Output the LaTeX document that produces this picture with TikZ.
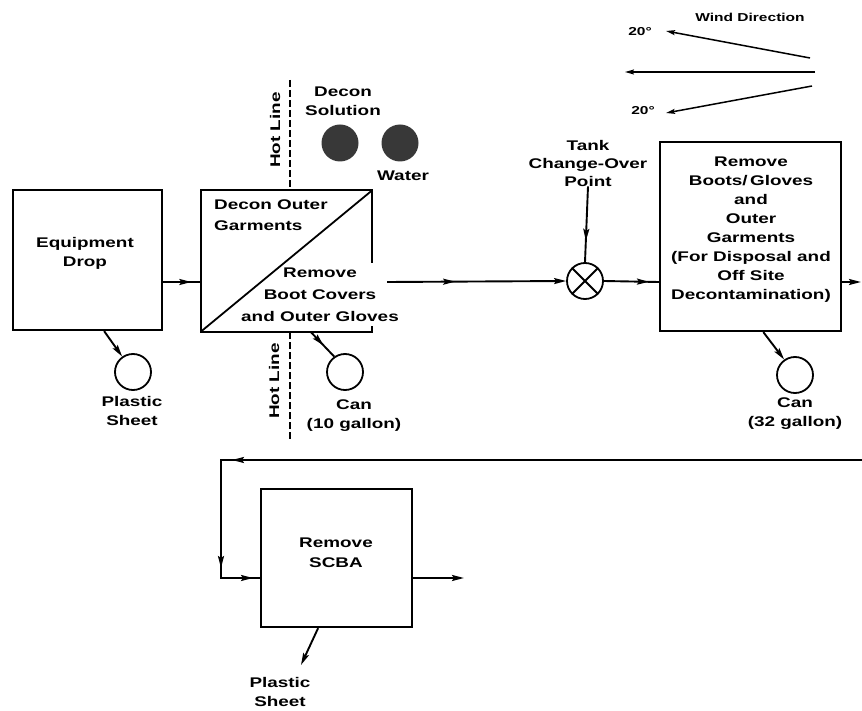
\documentclass[tikz,border=0pt]{standalone}
\usepackage{fontspec}
\setmainfont[FakeStretch=1.35]{Liberation Sans}
\usetikzlibrary{arrows.meta,decorations.markings,calc}
\tikzset{
  >={Stealth[length=12pt,width=6pt,inset=2pt]},
  boxline/.style={line width=2.2pt,line cap=rect,line join=miter},
  box/.style={draw,boxline,inner sep=0pt},
  lbl/.style={font=\fontsize{14}{19}\selectfont\bfseries,align=center,inner sep=0pt},
  smalllbl/.style={font=\fontsize{11.5}{14}\selectfont\bfseries,inner sep=0pt},
  ring/.style={circle,draw,line width=1.8pt,minimum size=36pt,inner sep=0pt},
  blob/.style={circle,fill=black!78,minimum size=37pt,inner sep=0pt},
  flow/.style={line width=1.9pt},
  marr/.style={postaction={decorate,decoration={markings,mark=at position #1 with {\arrow{>}}}}},
  hotline/.style={line width=1.8pt,dash pattern=on 7pt off 3pt},
  windline/.style={line width=1.5pt,>={Stealth[length=9pt,width=5pt,inset=1.5pt]}}
}
\begin{document}
\begin{tikzpicture}[x=1pt,y=-1pt]
\fill[white] (0,0) rectangle (862,711);
\useasboundingbox (0,0) rectangle (862,711);

% reference heights
\coordinate (my) at (0,282);
\coordinate (ry) at (0,578);

% boxes
\node[box,minimum width=149pt,minimum height=140pt] (eq) at (87.5,260) {};
\node[inner sep=0pt,minimum width=171pt,minimum height=141pt] (decon) at (286.5,261) {};
\node[box,minimum width=181pt,minimum height=189pt] (rb) at (750.5,236.5) {};
\node[box,minimum width=151pt,minimum height=138pt] (scba) at (336.5,558) {};

% decon box outline with gap on right edge
\draw[boxline] ([yshift=-72pt]decon.north east) -- (decon.north east) -- (decon.north west)
  -- (decon.south west) -- (decon.south east) -- ([yshift=5pt]decon.south east);
\draw[line width=1.8pt] (decon.south west) -- (decon.north east);

% texts in boxes
\node[lbl] (eqt) at (85,253) {Equipment\\Drop};
\node[lbl,anchor=west,align=left,font=\fontsize{14}{21}\selectfont\bfseries] (dot) at (214,215) {Decon Outer\\Garments};
\node[lbl,font=\fontsize{14}{22}\selectfont\bfseries] (rbt) at (320,295) {Remove\\Boot Covers\\and Outer Gloves};
\node[lbl] (rbx) at (751,229.5) {Remove\\Boots/\,Gloves\\and\\Outer\\Garments\\(For Disposal and\\Off Site\\Decontamination)};
\node[lbl,font=\fontsize{14}{20}\selectfont\bfseries] (scbat) at (336,553) {Remove\\SCBA};

% circles
\node[ring] (ps1) at (133,372) {};
\node[ring] (can1) at (345,372) {};
\node[ring] (can2) at (795,375) {};
\node[ring] (xc) at (585,281) {};
\draw[line width=1.8pt] (xc.north east) -- (xc.south west) (xc.north west) -- (xc.south east);
\node[blob] (sol) at (340,143) {};
\node[blob] (wat) at (400,143) {};

% labels
\node[lbl] (ps1l) at (132,411) {Plastic\\Sheet};
\node[lbl] (can1l) at (354,416) {Can\\(10 gallon)};
\node[lbl] (can2l) at (795,414) {Can\\(32 gallon)};
\node[lbl,font=\fontsize{14}{18}\selectfont\bfseries] (tank) at (588,163) {Tank\\Change-Over\\Point};
\node[lbl] (solt) at (343,101) {Decon\\Solution};
\node[lbl] (watt) at (403,176) {Water};
\node[lbl] (ps2l) at (280,692) {Plastic\\Sheet};
\node[lbl,rotate=90] (hl1) at (275,130) {Hot Line};
\node[lbl,rotate=90] (hl2) at (274,381) {Hot Line};

% hot line
\coordinate (ht1) at (290,80);
\coordinate (ht2) at (290,190);
\coordinate (hb1) at (290,332);
\coordinate (hb2) at (290,440);
\draw[hotline] (ht1) -- (ht2);
\draw[hotline] (hb1) -- (hb2);

% connectors
\draw[flow,marr=0.75] (eq.east |- my) -- (decon.west |- my);
\draw[flow,->] ($(eq.south west)!0.61!(eq.south east)$) -- (ps1.125);
\draw[flow,marr=0.55] ($(decon.south west)!0.64!(decon.south east)$) -- (can1.125);
\draw[flow,->,marr=0.38] ([xshift=15pt]decon.east |- my) -- (xc.west);
\draw[flow,marr=0.72] (tank.south) -- (xc.north);
\draw[flow,marr=0.82] (xc.east) -- (rb.west |- my);
\coordinate (e1) at (861,282);
\draw[flow,->] (rb.east |- my) -- (e1);
\draw[flow,->] ($(rb.south west)!0.57!(rb.south east)$) -- (can2.125);

\coordinate (e2) at (862,460);
\coordinate (k1) at (221,460);
\coordinate (k2) at (221,578);
\draw[flow,line join=miter,marr=630pt,marr=749pt,marr=791pt] (e2) -- (k1) -- (k2) -- (k2 -| scba.west);
\coordinate (out) at (464,578);
\draw[flow,->] (scba.east |- ry) -- (out);
\coordinate (ps2tip) at (301,665);
\draw[flow,->] ($(scba.south west)!0.38!(scba.south east)$) -- (ps2tip);

% wind direction
\node[smalllbl] (wind) at (750,17) {Wind Direction};
\node[smalllbl] (d1) at (640,32) {20°};
\node[smalllbl] (d2) at (643,111) {20°};
\coordinate (w0) at (815,72);
\coordinate (wl) at (625,72);
\coordinate (wu0) at (810,58);
\coordinate (wu) at (666,31);
\coordinate (wd0) at (812,86);
\coordinate (wd) at (666,113);
\draw[windline,->] (w0) -- (wl);
\draw[windline,->] (wu0) -- (wu);
\draw[windline,->] (wd0) -- (wd);
\end{tikzpicture}
\end{document}
